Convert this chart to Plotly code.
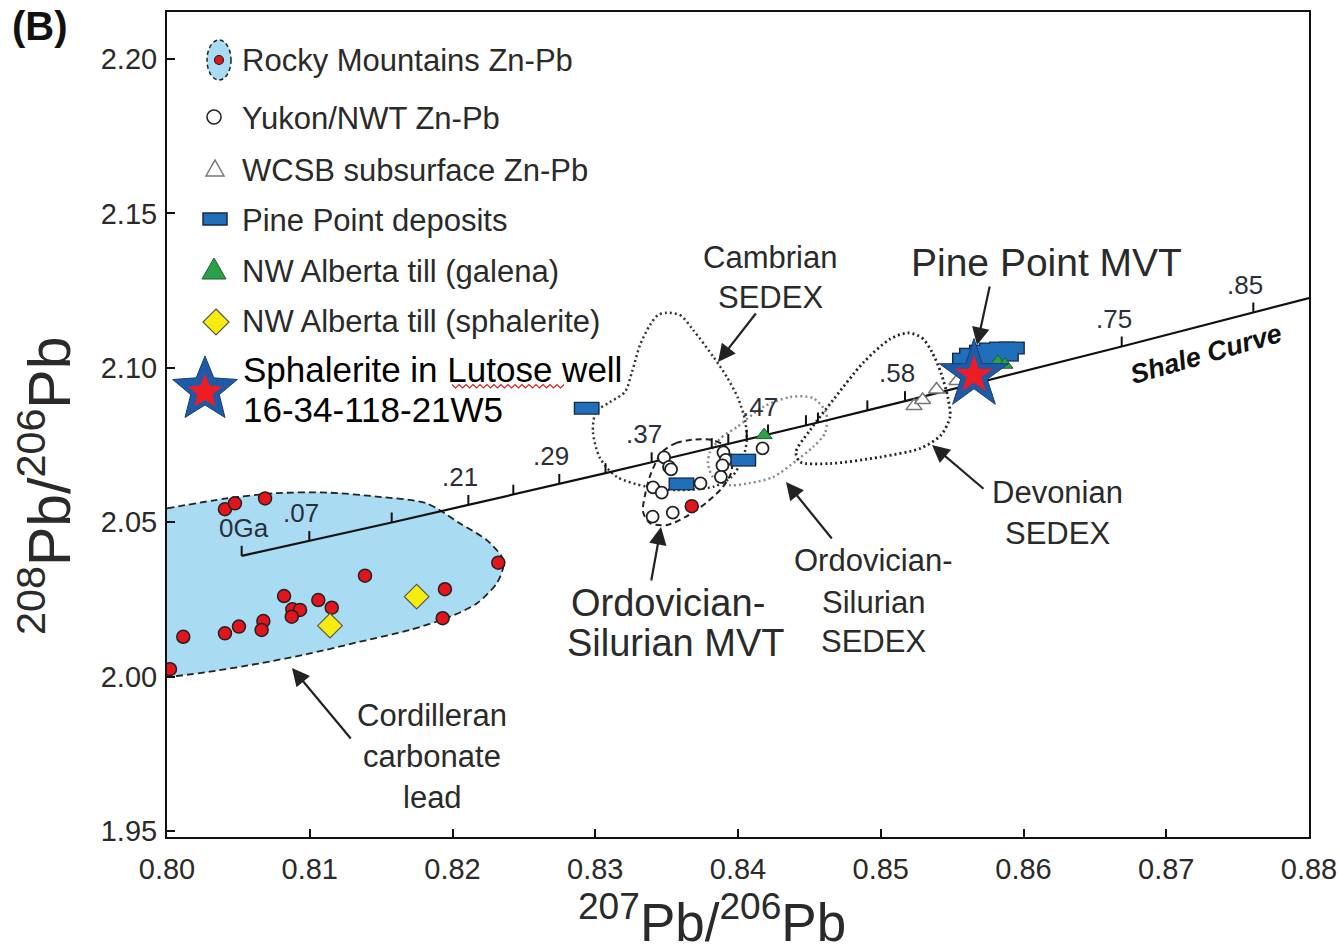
import math
import plotly.graph_objects as go

# ---------------- data ----------------
rocky_x = [0.80406, 0.80476, 0.80687, 0.82321, 0.81387, 0.80820, 0.81060, 0.81154, 0.80878, 0.80932,
           0.80874, 0.80675, 0.80663, 0.80504, 0.80406, 0.80114, 0.81947, 0.81931, 0.80021, 0.83676]
rocky_y = [2.0542, 2.0561, 2.0577, 2.0369, 2.0327, 2.0261, 2.0248, 2.0223, 2.0218, 2.0216,
           2.0194, 2.0180, 2.0151, 2.0162, 2.0140, 2.0129, 2.0283, 2.0189, 2.0024, 2.0552]

yukon_x = [0.83482, 0.83517, 0.83531, 0.83405, 0.83466, 0.83737, 0.83402, 0.83543,
           0.83898, 0.83914, 0.83891, 0.83880, 0.84172]
yukon_y = [2.0710, 2.0679, 2.0671, 2.0613, 2.0596, 2.0626, 2.0518, 2.0531,
           2.0726, 2.0702, 2.0684, 2.0647, 2.0739]

wcsb_x = [0.85233, 0.85293, 0.85391, 0.85534]
wcsb_y = [2.0876, 2.0896, 2.0930, 2.0957]

pine_x = [0.82940, 0.83604, 0.84037, 0.85590, 0.85639, 0.85709, 0.85779, 0.85849, 0.85919,
          0.85800, 0.85877, 0.85730]
pine_y = [2.0869, 2.0624, 2.0701, 2.1028, 2.1044, 2.1054, 2.1061, 2.1064, 2.1064,
          2.1038, 2.1041, 2.1025]

galena_x = [0.84183, 0.85821, 0.85870]
galena_y = [2.0782, 2.1019, 2.1010]

sphal_x = [0.81749, 0.81142]
sphal_y = [2.0259, 2.0165]

lutose_x = [0.85653]
lutose_y = [2.0977]

# shale (growth) curve: tick positions, then end of curve at the right axis
shale_x = [0.80523, 0.80997, 0.81574, 0.82111, 0.82426, 0.82748, 0.83072, 0.83395, 0.83816,
           0.83932, 0.84061, 0.84210, 0.84476, 0.84560, 0.84906, 0.85170, 0.86688, 0.87610, 0.88]
shale_y = [2.0391, 2.0439, 2.0499, 2.0556, 2.0589, 2.0624, 2.0659, 2.0694, 2.0740,
           2.0753, 2.0767, 2.0784, 2.0814, 2.0823, 2.0862, 2.0892, 2.1069, 2.1179, 2.1226]
shale_labels = ["0Ga", ".07", "", ".21", "", ".29", "", ".37", "", "", "", ".47", "", "", "",
                ".58", ".75", ".85"]

# field outlines
cord_x = [0.8000, 0.80418, 0.80768, 0.81119, 0.81469, 0.81819, 0.82053, 0.82240, 0.82345, 0.82356,
          0.82310, 0.82170, 0.81983, 0.81702, 0.81352, 0.81002, 0.80651, 0.80301, 0.8000]
cord_y = [2.0545, 2.0577, 2.0594, 2.0596, 2.0583, 2.0561, 2.0496, 2.0442, 2.0388, 2.0356,
          2.0302, 2.0237, 2.0194, 2.0151, 2.0113, 2.0075, 2.0043, 2.0016, 1.9998]

camb_x = [0.83501, 0.83594, 0.83687, 0.83827, 0.83921, 0.84000, 0.84049, 0.84061, 0.84037, 0.83956,
          0.83827, 0.83571, 0.83360, 0.83150, 0.83033, 0.82984, 0.83005, 0.83103, 0.83208, 0.83257,
          0.83314, 0.83384, 0.83440]
camb_y = [2.1178, 2.1171, 2.1122, 2.1036, 2.0971, 2.0902, 2.0831, 2.0766, 2.0711, 2.0647,
          2.0615, 2.0604, 2.0615, 2.0647, 2.0708, 2.0792, 2.0857, 2.0889, 2.0922, 2.0986,
          2.1074, 2.1139, 2.1171]

ordmvt_x = [0.83468, 0.83566, 0.83699, 0.83818, 0.83909, 0.83958, 0.83951, 0.83888, 0.83783,
            0.83643, 0.83503, 0.83384, 0.83335, 0.83349, 0.83391]
ordmvt_y = [2.0727, 2.0756, 2.0768, 2.0766, 2.0747, 2.0708, 2.0659, 2.0611, 2.0565,
            2.0520, 2.0491, 2.0497, 2.0533, 2.0588, 2.0659]

ordsed_x = [0.83804, 0.83888, 0.83993, 0.84175, 0.84365, 0.84526, 0.84617, 0.84610, 0.84526,
            0.84413, 0.84245, 0.84085, 0.83944, 0.83825, 0.83790]
ordsed_y = [2.0727, 2.0776, 2.0808, 2.0873, 2.0905, 2.0902, 2.0854, 2.0789, 2.0744,
            2.0701, 2.0646, 2.0627, 2.0620, 2.0646, 2.0692]

dev_x = [0.85191, 0.85289, 0.85359, 0.85422, 0.85471, 0.85485, 0.85422, 0.85282, 0.84995,
         0.84645, 0.84435, 0.84406, 0.84506, 0.84667, 0.84876, 0.85065]
dev_y = [2.1113, 2.1097, 2.1051, 2.0983, 2.0902, 2.0841, 2.0782, 2.0740, 2.0711,
         2.0690, 2.0695, 2.0727, 2.0799, 2.0896, 2.1016, 2.1093]

x_ticks = [0.80, 0.81, 0.82, 0.83, 0.84, 0.85, 0.86, 0.87, 0.88]
y_ticks = [1.95, 2.00, 2.05, 2.10, 2.15, 2.20]

legend_labels = ["Rocky Mountains Zn-Pb", "Yukon/NWT Zn-Pb", "WCSB subsurface Zn-Pb",
                 "Pine Point deposits", "NW Alberta till (galena)", "NW Alberta till (sphalerite)"]
star_label = ["Sphalerite in Lutose well", "16-34-118-21W5"]

# ---------------- layout geometry (page pixels) ----------------
FW, FH = 1338, 951
PL, PR, PT, PB = 167, 1309, 12, 837   # plot area in page pixels
X0, X1 = 0.80, 0.88
Y0, Y1 = 1.94806, 2.21522
FONT = "Liberation Sans, Arial, sans-serif"
TXT = "#2a2a2a"


def PX(px):
    return (px - PL) / (PR - PL)


def PY(py):
    return (PB - py) / (PB - PT)


def DX(px):
    return X0 + (px - PL) * (X1 - X0) / (PR - PL)


def DY(py):
    return Y1 - (py - PT) * (Y1 - Y0) / (PB - PT)


def closed(a):
    return list(a) + [a[0]]


fig = go.Figure()

# Cordilleran field (filled)
fig.add_trace(go.Scatter(x=cord_x, y=cord_y, mode="lines", fill="toself", fillcolor="#a9dcf3",
                         line=dict(color="#222", width=1.8, dash="7px,4px", shape="spline", smoothing=0.8),
                         hoverinfo="skip"))
# other fields
fig.add_trace(go.Scatter(x=closed(camb_x), y=closed(camb_y), mode="lines",
                         line=dict(color="#333", width=2.5, dash="2px,3px", shape="spline", smoothing=0.8),
                         hoverinfo="skip"))
fig.add_trace(go.Scatter(x=closed(ordsed_x), y=closed(ordsed_y), mode="lines",
                         line=dict(color="#8a8a8a", width=2.5, dash="2px,3px", shape="spline", smoothing=0.8),
                         hoverinfo="skip"))
fig.add_trace(go.Scatter(x=closed(ordmvt_x), y=closed(ordmvt_y), mode="lines",
                         line=dict(color="#222", width=2, dash="6px,4px", shape="spline", smoothing=0.8),
                         hoverinfo="skip"))
fig.add_trace(go.Scatter(x=closed(dev_x), y=closed(dev_y), mode="lines",
                         line=dict(color="#222", width=2.8, dash="2px,3px", shape="spline", smoothing=0.8),
                         hoverinfo="skip"))

# shale curve + ticks
fig.add_trace(go.Scatter(x=shale_x, y=shale_y, mode="lines", line=dict(color="#111", width=2.2),
                         hoverinfo="skip"))
TK = 10 * (Y1 - Y0) / (PB - PT)
tx, ty = [], []
for i in range(len(shale_labels)):
    tx += [shale_x[i], shale_x[i], None]
    ty += [shale_y[i], shale_y[i] + TK, None]
fig.add_trace(go.Scatter(x=tx, y=ty, mode="lines", line=dict(color="#111", width=2), hoverinfo="skip"))

# points
fig.add_trace(go.Scatter(x=wcsb_x, y=wcsb_y, mode="markers",
                         marker=dict(symbol="triangle-up", size=14, color="white",
                                     line=dict(color="#777", width=1.5))))
fig.add_trace(go.Scatter(x=yukon_x, y=yukon_y, mode="markers",
                         marker=dict(symbol="circle", size=12, color="white",
                                     line=dict(color="#222", width=1.8))))
fig.add_trace(go.Scatter(x=rocky_x, y=rocky_y, mode="markers",
                         marker=dict(symbol="circle", size=13, color="#e3141b",
                                     line=dict(color="#222", width=1.5))))
fig.add_trace(go.Scatter(x=sphal_x, y=sphal_y, mode="markers",
                         marker=dict(symbol="diamond", size=19, color="#f7ec0f",
                                     line=dict(color="#555", width=1.2))))
fig.add_trace(go.Scatter(x=pine_x, y=pine_y, mode="markers",
                         marker=dict(symbol="line-ew", size=18.5, color="#1a2a45",
                                     line=dict(color="#1a2a45", width=13))))
fig.add_trace(go.Scatter(x=pine_x, y=pine_y, mode="markers",
                         marker=dict(symbol="line-ew", size=16.5, color="#1f6fba",
                                     line=dict(color="#1f6fba", width=10.5))))
fig.add_trace(go.Scatter(x=galena_x, y=galena_y, mode="markers",
                         marker=dict(symbol="triangle-up", size=14, color="#2ca048",
                                     line=dict(color="#1d5e2b", width=1))))
fig.add_trace(go.Scatter(x=lutose_x, y=lutose_y, mode="markers",
                         marker=dict(symbol="star", size=52, color="#1f5aa6",
                                     line=dict(color="#163f7a", width=1))))
fig.add_trace(go.Scatter(x=lutose_x, y=lutose_y, mode="markers",
                         marker=dict(symbol="star", size=29, color="#ee1c24", line=dict(width=0))))

annotations = []
# shale-curve age labels
for i, lab in enumerate(shale_labels):
    if lab:
        annotations.append(dict(x=shale_x[i], y=shale_y[i], xref="x", yref="y", text=lab,
                                showarrow=False, xanchor="center", yanchor="middle",
                                yshift=28, xshift=(2 if lab == "0Ga" else -8),
                                font=dict(family=FONT, size=26, color="#2a2f3a")))
annotations.append(dict(x=DX(1206), y=DY(354), xref="x", yref="y", text="<b><i>Shale Curve</i></b>",
                        showarrow=False, textangle=-16, xanchor="center", yanchor="middle",
                        font=dict(family=FONT, size=27, color="#111")))

# field labels
for text, px, py, sz in [("Cambrian", 770, 257, 31), ("SEDEX", 770, 297, 31),
                         ("Pine Point MVT", 1046, 262, 39),
                         ("Devonian", 1057, 492, 31), ("SEDEX", 1057, 533, 31),
                         ("Ordovician-", 873, 560, 31), ("Silurian", 873, 602, 31), ("SEDEX", 873, 641, 31),
                         ("Ordovician-", 668, 603, 38), ("Silurian MVT", 676, 643, 38),
                         ("Cordilleran", 432, 715, 31), ("carbonate", 432, 756, 31), ("lead", 432, 797, 31)]:
    annotations.append(dict(x=DX(px), y=DY(py), xref="x", yref="y", text=text, showarrow=False,
                            xanchor="center", yanchor="middle",
                            font=dict(family=FONT, size=sz, color=TXT)))

# arrows (head pixel, tail offset)
for hx, hy, ax, ay in [(718, 362, 39, -50), (977, 345, 13, -60), (932, 445, 53, 45),
                       (786, 482, 47, 58), (661, 527, -10, 55), (292, 668, 60, 72)]:
    annotations.append(dict(x=DX(hx), y=DY(hy), xref="x", yref="y", text="", showarrow=True,
                            ax=ax, ay=ay, arrowhead=2, arrowsize=1.6, arrowwidth=2.2,
                            arrowcolor="#222"))

# axis titles and panel label
annotations.append(dict(x=PX(712), y=PY(918), xref="paper", yref="paper",
                        text="<sup>207</sup>Pb/<sup>206</sup>Pb", showarrow=False,
                        xanchor="center", yanchor="middle",
                        font=dict(family=FONT, size=53, color=TXT)))
annotations.append(dict(x=PX(46), y=PY(486), xref="paper", yref="paper",
                        text="<sup>208</sup>Pb/<sup>206</sup>Pb", showarrow=False, textangle=-90,
                        xanchor="center", yanchor="middle",
                        font=dict(family=FONT, size=59, color=TXT)))
annotations.append(dict(x=PX(10), y=PY(26), xref="paper", yref="paper", text="<b>(B)</b>",
                        showarrow=False, xanchor="left", yanchor="middle",
                        font=dict(family=FONT, size=40, color="#111")))

# legend texts
leg_y = [60, 118, 170, 221, 271, 321]
for lab, py in zip(legend_labels, leg_y):
    annotations.append(dict(x=PX(240), y=PY(py), xref="paper", yref="paper", text=lab,
                            showarrow=False, xanchor="left", yanchor="middle",
                            font=dict(family=FONT, size=31, color=TXT)))
for lab, py in zip(star_label, [369, 409]):
    annotations.append(dict(x=PX(241), y=PY(py), xref="paper", yref="paper", text=lab,
                            showarrow=False, xanchor="left", yanchor="middle",
                            font=dict(family=FONT, size=35, color="#000")))

# legend symbols as shapes
shapes = []


def ppath(points, close=True):
    s = "M " + " L ".join(f"{PX(a):.5f},{PY(b):.5f}" for a, b in points)
    return s + (" Z" if close else "")


def star_pts(cx, cy, R, r):
    pts = []
    for k in range(10):
        ang = math.radians(-90 + 36 * k)
        rad = R if k % 2 == 0 else r
        pts.append((cx + rad * math.cos(ang), cy + rad * math.sin(ang)))
    return pts


shapes.append(dict(type="circle", xref="paper", yref="paper", x0=PX(207), x1=PX(231),
                   y0=PY(80), y1=PY(40), fillcolor="#a9dcf3",
                   line=dict(color="#222", width=1.5, dash="4px,3px")))
shapes.append(dict(type="circle", xref="paper", yref="paper", x0=PX(214.5), x1=PX(223.5),
                   y0=PY(64.5), y1=PY(55.5), fillcolor="#e3141b", line=dict(color="#222", width=1.2)))
shapes.append(dict(type="circle", xref="paper", yref="paper", x0=PX(207), x1=PX(221),
                   y0=PY(124), y1=PY(110), fillcolor="white", line=dict(color="#222", width=1.6)))
shapes.append(dict(type="path", xref="paper", yref="paper",
                   path=ppath([(206, 176), (224, 176), (215, 160)]),
                   fillcolor="white", line=dict(color="#777", width=1.5)))
shapes.append(dict(type="rect", xref="paper", yref="paper", x0=PX(203), x1=PX(227),
                   y0=PY(225), y1=PY(213), fillcolor="#1f6fba", line=dict(color="#1a2a45", width=1.5)))
shapes.append(dict(type="path", xref="paper", yref="paper",
                   path=ppath([(202, 279), (226, 279), (214, 258)]),
                   fillcolor="#2ca048", line=dict(color="#1d5e2b", width=1)))
shapes.append(dict(type="path", xref="paper", yref="paper",
                   path=ppath([(216, 309), (229, 322), (216, 335), (203, 322)]),
                   fillcolor="#f7ec0f", line=dict(color="#555", width=1.2)))
shapes.append(dict(type="path", xref="paper", yref="paper", path=ppath(star_pts(205, 390, 34, 15)),
                   fillcolor="#1f5aa6", line=dict(color="#163f7a", width=1)))
shapes.append(dict(type="path", xref="paper", yref="paper", path=ppath(star_pts(205, 392, 18, 8)),
                   fillcolor="#ee1c24", line=dict(width=0)))
# wavy underline under "Lutose"
wave = []
xw, k = 452.0, 0
while xw <= 565:
    wave.append((xw, 386 + (2 if k % 2 else -1.5)))
    xw += 3.5
    k += 1
shapes.append(dict(type="path", xref="paper", yref="paper", path=ppath(wave, close=False),
                   line=dict(color="#e02020", width=1.2)))

axis_common = dict(showline=True, linecolor="#111", linewidth=2, mirror=True, ticks="inside",
                   ticklen=8, tickwidth=2, tickcolor="#111", showgrid=False, zeroline=False,
                   ticklabeloverflow="allow",
                   tickfont=dict(family=FONT, size=29, color=TXT))

fig.update_layout(
    width=FW, height=FH, showlegend=False,
    margin=dict(l=PL, r=FW - PR, t=PT, b=FH - PB, autoexpand=False),
    plot_bgcolor="white", paper_bgcolor="white",
    xaxis=dict(range=[X0, X1], tickvals=x_ticks, ticktext=[f"{v:.2f}" for v in x_ticks],
               ticklabelstandoff=5, **axis_common),
    yaxis=dict(range=[Y0, Y1], tickvals=y_ticks, ticktext=[f"{v:.2f}" for v in y_ticks],
               ticklabelstandoff=2, **axis_common),
    annotations=annotations, shapes=shapes,
)

# remove the page's default 8px body margin so the figure fills the window exactly
fig.write_html("out.html", config={"displayModeBar": False},
               post_script="document.body.style.margin='0px';")
